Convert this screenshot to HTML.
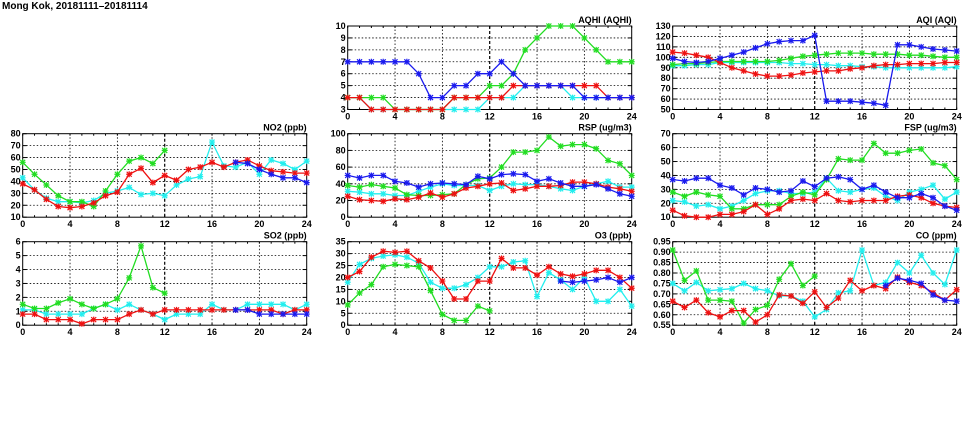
<!DOCTYPE html>
<html><head><meta charset="utf-8"><style>
body{margin:0;background:#fff;width:975px;height:447px;overflow:hidden;font-family:"Liberation Sans",sans-serif}
svg{display:block}
text{font-family:"Liberation Sans",sans-serif;font-weight:bold;font-size:9px;fill:#000}
</style></head><body>
<svg id="chart" width="975" height="447" viewBox="0 0 975 447">
<text x="2" y="9" style="font-size:10px">Mong Kok, 20181111–20181114</text>
</svg>
<script>
const hours=[0,1,2,3,4,5,6,7,8,9,10,11,12,13,14,15,16,17,18,19,20,21,22,23,24];
const N=null;
const seriesNames=["cyan","green","red","blue"];
const aqhiCyan=[4,4,3,3,3,3,3,3,3,3,3,3,4,4,4,5,5,5,5,4,4,4,4,4,4];
const aqhiGreen=[4,4,4,4,3,3,3,3,3,4,4,4,5,5,6,8,9,10,10,10,9,8,7,7,7];
const aqhiRed=[4,4,3,3,3,3,3,3,3,4,4,4,4,4,5,5,5,5,5,5,5,5,4,4,4];
const aqhiBlue=[7,7,7,7,7,7,6,4,4,5,5,6,6,7,6,5,5,5,5,5,4,4,4,4,4];
const aqiCyan=[92,92,93,93,95,95,95,95,95,95,94,94,93,93,92,92,91,91,90,90,90,90,90,90,91];
const aqiGreen=[93,94,94,95,96,96,96,96,96,97,99,101,102,103,104,104,104,103,103,103,102,102,101,100,100];
const aqiRed=[105,104,102,100,95,90,87,84,82,82,83,85,86,87,87,89,90,92,93,93,94,94,94,95,95];
const aqiBlue=[99,96,95,96,99,102,105,109,113,115,116,116,121,58,58,58,57,56,54,112,112,110,108,107,106];
const no2Cyan=[43,33,26,23,23,22,24,30,32,35,29,30,28,37,42,44,73,53,52,56,46,58,55,50,57];
const no2Green=[56,46,37,28,23,23,19,32,46,57,60,55,66,N,N,N,N,N,N,N,N,N,N,N,N];
const no2Red=[38,33,25,19,18,19,22,28,31,46,51,39,45,41,50,52,56,52,56,58,53,49,48,47,47];
const no2Blue=[N,N,N,N,N,N,N,N,N,N,N,N,N,N,N,N,N,N,56,55,50,46,43,43,39];
const rspCyan=[31,30,28,28,26,26,31,36,40,38,38,38,32,37,40,39,39,37,34,32,37,40,43,36,36];
const rspGreen=[38,36,39,37,35,27,26,26,27,28,39,46,47,60,78,78,80,96,85,87,87,82,68,64,50];
const rspRed=[25,21,20,19,22,21,24,29,24,28,35,37,40,41,32,34,37,37,38,42,42,40,36,34,31];
const rspBlue=[50,47,50,50,43,41,36,40,41,40,39,49,46,51,52,51,43,46,41,37,37,39,34,28,25];
const fspCyan=[22,21,18,19,16,18,22,27,29,29,27,27,28,38,29,28,30,31,25,22,28,30,33,23,28];
const fspGreen=[28,25,28,26,25,16,16,19,19,19,25,28,26,37,52,51,51,63,56,56,58,59,49,47,37];
const fspRed=[15,11,10,10,12,12,14,19,12,16,22,23,22,27,22,21,22,22,22,25,26,24,20,18,17];
const fspBlue=[37,36,38,38,33,31,26,31,30,28,29,36,32,38,39,37,30,33,28,24,24,27,24,18,15];
const so2Cyan=[1.1,1.1,0.8,0.8,0.8,0.8,1.2,1.5,1.1,1.5,1.1,0.8,0.4,0.8,0.8,0.8,1.5,1.1,1.1,1.5,1.5,1.5,1.5,1.1,1.5];
const so2Green=[1.5,1.2,1.2,1.6,1.9,1.5,1.2,1.5,1.9,3.4,5.7,2.7,2.3,N,N,N,N,N,N,N,N,N,N,N,N];
const so2Red=[0.8,0.8,0.4,0.4,0.4,0.1,0.4,0.4,0.4,0.8,1.1,0.8,1.1,1.1,1.1,1.1,1.1,1.1,1.1,1.1,1.1,1.1,0.8,1.1,1.1];
const so2Blue=[N,N,N,N,N,N,N,N,N,N,N,N,N,N,N,N,N,N,1.1,1.1,0.8,0.8,0.8,0.8,0.8];
const o3Cyan=[18,25.5,28,29,29.5,28.5,26,18,15.5,15.5,17,20,24.5,24.5,26.5,27,12,22,19,15,20,10,10,15,8];
const o3Green=[8.5,13.5,17,24.5,25.5,25,24.5,14.5,4.5,2,2,8,6,N,N,N,N,N,N,N,N,N,N,N,N];
const o3Red=[20,22.5,28.5,31,30.5,31,27,24,18.5,11,11,18.5,18.5,28,24,24,21,24.5,21.5,20.5,21.5,23,23,20,15.5];
const o3Blue=[N,N,N,N,N,N,N,N,N,N,N,N,N,N,N,N,N,N,18.5,18,18.5,19,20,18,20];
const coCyan=[.75,.715,.755,.715,.72,.725,.75,.725,.715,.69,.69,.665,.59,.625,.705,.715,.91,.74,.755,.85,.80,.885,.80,.745,.91];
const coGreen=[.91,.765,.81,.67,.67,.665,.56,.625,.645,.77,.845,.74,.785,N,N,N,N,N,N,N,N,N,N,N,N];
const coRed=[.665,.635,.67,.61,.59,.62,.62,.565,.60,.695,.69,.655,.71,.635,.68,.765,.715,.74,.725,.78,.755,.74,.705,.67,.72];
const coBlue=[N,N,N,N,N,N,N,N,N,N,N,N,N,N,N,N,N,N,.74,.775,.765,.75,.695,.67,.665];
const xTicks=[0,4,8,12,16,20,24];

const colors={cyan:"#22eeee",green:"#22dd22",red:"#ee1111",blue:"#1a1aee"};
const NS="http://www.w3.org/2000/svg";
const svg=document.getElementById("chart");
function mk(tag,attrs,parent){const e=document.createElementNS(NS,tag);for(const k in attrs)e.setAttribute(k,attrs[k]);(parent||svg).appendChild(e);return e;}

const panels=[
 {id:"aqhi",title:"AQHI (AQHI)",col:1,row:0,min:3,max:10,step:1,dec:0,data:[aqhiCyan,aqhiGreen,aqhiRed,aqhiBlue]},
 {id:"aqi",title:"AQI (AQI)",col:2,row:0,min:50,max:130,step:10,dec:0,data:[aqiCyan,aqiGreen,aqiRed,aqiBlue]},
 {id:"no2",title:"NO2 (ppb)",col:0,row:1,min:10,max:80,step:10,dec:0,data:[no2Cyan,no2Green,no2Red,no2Blue]},
 {id:"rsp",title:"RSP (ug/m3)",col:1,row:1,min:0,max:100,step:20,dec:0,data:[rspCyan,rspGreen,rspRed,rspBlue]},
 {id:"fsp",title:"FSP (ug/m3)",col:2,row:1,min:10,max:70,step:10,dec:0,data:[fspCyan,fspGreen,fspRed,fspBlue]},
 {id:"so2",title:"SO2 (ppb)",col:0,row:2,min:0,max:6,step:1,dec:0,data:[so2Cyan,so2Green,so2Red,so2Blue]},
 {id:"o3",title:"O3 (ppb)",col:1,row:2,min:0,max:35,step:5,dec:0,data:[o3Cyan,o3Green,o3Red,o3Blue]},
 {id:"co",title:"CO (ppm)",col:2,row:2,min:0.55,max:0.95,step:0.05,dec:2,data:[coCyan,coGreen,coRed,coBlue]}
];
const lefts=[22.7,347.7,672.7], tops=[26,133.7,241.7], W=284, H=83.5;

panels.forEach(p=>{
 const L=lefts[p.col], T=tops[p.row];
 const g=mk("g",{});
 
 
 const xs=h=>L+h/24*W;
 const ys=v=>T+H-(v-p.min)/(p.max-p.min)*H;
 // grid
 const nT=Math.round((p.max-p.min)/p.step);
 for(let i=0;i<=nT;i++){
  const v=p.min+i*p.step, y=ys(v);
  if(i>0&&i<nT) mk("line",{x1:L,x2:L+W,y1:y,y2:y,stroke:"#000","stroke-width":0.8,"stroke-dasharray":"1.5,2"},g);
  mk("line",{x1:L,x2:L+4,y1:y,y2:y,stroke:"#000","stroke-width":1},g);
  mk("line",{x1:L+W-4,x2:L+W,y1:y,y2:y,stroke:"#000","stroke-width":1},g);
  const t=mk("text",{x:L-2,y:y+3,"text-anchor":"end"},g);
  t.textContent=p.dec?v.toFixed(p.dec):String(Math.round(v));
  
  
 }
 hours.forEach(h=>{const x=xs(h);
  mk("line",{x1:x,x2:x,y1:T+H,y2:T+H-2,stroke:"#000","stroke-width":1},g);
  mk("line",{x1:x,x2:x,y1:T,y2:T+2,stroke:"#000","stroke-width":1},g);});
 xTicks.forEach(h=>{const x=xs(h);
  if(h>0&&h<24) mk("line",{x1:x,x2:x,y1:T,y2:T+H,stroke:"#000","stroke-width":h===12?1.2:0.8,"stroke-dasharray":h===12?"3,2":"1.5,2"},g);
  const t=mk("text",{x:x,y:T+H+10,"text-anchor":"middle"},g);
  t.textContent=String(h);
  
  
 });
 mk("rect",{x:L,y:T,width:W,height:H,fill:"none",stroke:"#000","stroke-width":1},g);
 const tt=mk("text",{x:L+W,y:T-3,"text-anchor":"end"},g);
 tt.textContent=p.title;
 
 
 // series
 p.data.forEach((arr,si)=>{
  const c=colors[seriesNames[si]];
  const sg=mk("g",{},g);
  
  
  let d="",pen=false;
  arr.forEach((v,i)=>{if(v===null){pen=false;return;}d+=(pen?"L":"M")+xs(hours[i]).toFixed(1)+","+ys(v).toFixed(1);pen=true;});
  mk("path",{d:d,fill:"none",stroke:c,"stroke-width":1.3},sg);
  arr.forEach((v,i)=>{if(v===null)return;const x=xs(hours[i]),y=ys(v);
   const m=mk("path",{d:`M${x-2.5},${y-2.5}L${x+2.5},${y+2.5}M${x-2.5},${y+2.5}L${x+2.5},${y-2.5}M${x},${y-3}L${x},${y+3}M${x-3},${y}L${x+3},${y}`,stroke:c,"stroke-width":1.2,fill:"none"},sg);
   
   
  });
 });
});
</script>
</body></html>
